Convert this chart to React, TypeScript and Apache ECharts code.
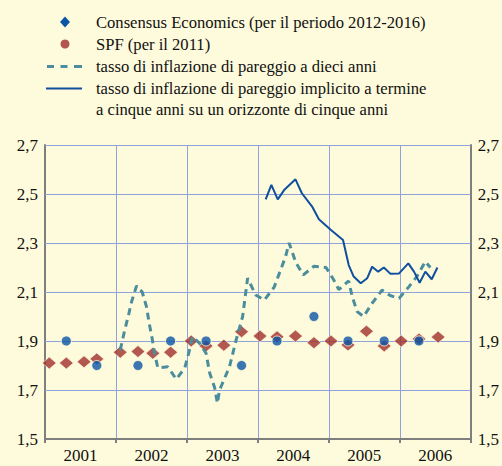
import React, { useEffect, useRef } from "react";
import * as echarts from "echarts";

const years = ["2001", "2002", "2003", "2004", "2005", "2006"];
const yTicks = [1.7, 1.9, 2.1, 2.3, 2.5, 2.7];

// SPF (per il 2011): [decimal year, value]
const spfX = [2001.06, 2001.3, 2001.55, 2001.73, 2002.06, 2002.31, 2002.52, 2002.77, 2003.06, 2003.27, 2003.52, 2003.77, 2004.03, 2004.27, 2004.53, 2004.79, 2005.03, 2005.27, 2005.53, 2005.78, 2006.02, 2006.27, 2006.54];
const spfY = [1.81, 1.81, 1.815, 1.827, 1.854, 1.857, 1.85, 1.854, 1.9, 1.88, 1.883, 1.938, 1.92, 1.917, 1.92, 1.893, 1.9, 1.884, 1.94, 1.88, 1.9, 1.908, 1.916];

// Consensus Economics (per il periodo 2012-2016)
const ceX = [2001.3, 2001.73, 2002.31, 2002.77, 2003.27, 2003.77, 2004.27, 2004.79, 2005.27, 2005.78, 2006.27];
const ceY = [1.9, 1.8, 1.8, 1.9, 1.9, 1.8, 1.9, 2.0, 1.9, 1.9, 1.9];

// tasso di inflazione di pareggio a dieci anni
const beX = [2002.06, 2002.12, 2002.18, 2002.22, 2002.29, 2002.37, 2002.43, 2002.47, 2002.51, 2002.545, 2002.59, 2002.73, 2002.85, 2002.97, 2003.03, 2003.08, 2003.18, 2003.27, 2003.32, 2003.39, 2003.43, 2003.46, 2003.6, 2003.69, 2003.785, 2003.855, 2003.97, 2004.09, 2004.23, 2004.32, 2004.39, 2004.44, 2004.535, 2004.64, 2004.79, 2004.96, 2005.07, 2005.14, 2005.28, 2005.33, 2005.4, 2005.49, 2005.61, 2005.75, 2005.87, 2005.99, 2006.13, 2006.24, 2006.36, 2006.43];
const beY = [1.863, 1.94, 2.01, 2.06, 2.125, 2.1, 2.04, 1.97, 1.91, 1.85, 1.79, 1.795, 1.744, 1.79, 1.856, 1.918, 1.89, 1.85, 1.77, 1.71, 1.646, 1.7, 1.795, 1.9, 2.0, 2.156, 2.088, 2.067, 2.12, 2.19, 2.244, 2.3, 2.22, 2.17, 2.205, 2.2, 2.149, 2.11, 2.145, 2.08, 2.02, 2.0, 2.054, 2.108, 2.085, 2.074, 2.122, 2.163, 2.224, 2.2];

// tasso di inflazione di pareggio implicito a termine a cinque anni su un orizzonte di cinque anni
const fwdX = [2004.11, 2004.19, 2004.28, 2004.37, 2004.53, 2004.62, 2004.77, 2004.86, 2005.03, 2005.2, 2005.28, 2005.35, 2005.45, 2005.54, 2005.61, 2005.695, 2005.775, 2005.87, 2005.99, 2006.12, 2006.2, 2006.28, 2006.36, 2006.45, 2006.53];
const fwdY = [2.478, 2.537, 2.478, 2.516, 2.56, 2.503, 2.446, 2.397, 2.353, 2.312, 2.21, 2.163, 2.136, 2.156, 2.203, 2.183, 2.2, 2.174, 2.176, 2.217, 2.183, 2.138, 2.183, 2.152, 2.2];

const legendLabels = [
  "Consensus Economics (per il periodo 2012-2016)",
  "SPF (per il 2011)",
  "tasso di inflazione di pareggio a dieci anni",
  "tasso di inflazione di pareggio implicito a termine",
  "a cinque anni su un orizzonte di cinque anni",
];

const BG = "#fefbdc";
const GRID = "#8fa2dc";
const AXIS = "#7f7f7f";
const RED = "#9f302c";
const BLUE = "#0b55a6";
const TEAL = "#4a8d9c";
const NAVY = "#0f4f9e";
const FONT = "Liberation Serif";
const TXT = "#111111";

const zip = (xs: number[], ys: number[]) => xs.map((x, i) => [x, ys[i]]);
const fmt = (v: number) => {
  const t = Math.round(v * 10);
  if (t % 2 === 0) return "";
  return (t / 10).toFixed(1).replace(".", ",");
};

export default function App() {
  const ref = useRef<HTMLDivElement>(null);
  useEffect(() => {
    document.body.style.margin = "0";
    document.body.style.background = BG;
    const chart = echarts.init(ref.current!, undefined, { renderer: "svg" });
    const yAxisBase = {
      type: "value",
      min: 1.5,
      max: 2.7,
      interval: 0.1,
      splitLine: { show: false },
      axisTick: { show: false },
      axisLine: { show: true, lineStyle: { color: AXIS, width: 2 } },
      axisLabel: { formatter: fmt, fontSize: 17, fontFamily: FONT, color: TXT, margin: 7 },
    };
    const textStyle = { fontSize: 16.6, fontFamily: FONT, fill: TXT, textVerticalAlign: "middle" };
    const legendY = [22.5, 44.5, 66, 88, 109.5];
    chart.setOption({
      animation: false,
      backgroundColor: BG,
      grid: { left: 45, right: 30, top: 145, bottom: 27 },
      xAxis: [
        {
          type: "category",
          data: years,
          boundaryGap: true,
          axisLine: { show: true, lineStyle: { color: AXIS, width: 2 } },
          axisTick: { show: true, interval: 0, length: 4, lineStyle: { color: AXIS, width: 2 } },
          splitLine: { show: true, interval: 0, lineStyle: { color: GRID, width: 1 } },
          axisLabel: { fontSize: 17, fontFamily: FONT, color: TXT, margin: 8, interval: 0 },
        },
        { type: "value", min: 2001, max: 2007, show: false },
      ],
      yAxis: [
        { ...yAxisBase, position: "left" },
        { ...yAxisBase, position: "right" },
      ],
      series: [
        {
          type: "line",
          name: legendLabels[2],
          xAxisIndex: 1,
          data: zip(beX, beY),
          showSymbol: false,
          lineStyle: { color: TEAL, width: 3, type: [7, 5], cap: "butt" },
          markLine: {
            silent: true,
            symbol: "none",
            z: 1,
            label: { show: false },
            lineStyle: { color: GRID, width: 1, type: "solid" },
            data: yTicks.map((v) => ({ yAxis: v })),
          },
        },
        {
          type: "line",
          name: legendLabels[3],
          xAxisIndex: 1,
          data: zip(fwdX, fwdY),
          showSymbol: false,
          lineStyle: { color: NAVY, width: 2 },
        },
        {
          type: "scatter",
          name: legendLabels[1],
          xAxisIndex: 1,
          data: zip(spfX, spfY),
          symbol: "diamond",
          symbolSize: [14, 12],
          itemStyle: { color: RED, borderColor: BG, borderWidth: 0.8 },
        },
        {
          type: "scatter",
          name: legendLabels[0],
          xAxisIndex: 1,
          data: zip(ceX, ceY),
          symbol: "circle",
          symbolSize: 10,
          itemStyle: { color: BLUE, borderColor: BG, borderWidth: 1 },
        },
      ],
      graphic: [
        { type: "polygon", shape: { points: [[65, 16.5], [70, 22], [65, 27.5], [60, 22]] }, style: { fill: BLUE } },
        { type: "circle", shape: { cx: 65, cy: 44, r: 4.5 }, style: { fill: "#b3564f" } },
        { type: "rect", shape: { x: 47, y: 65, width: 7, height: 3 }, style: { fill: TEAL } },
        { type: "rect", shape: { x: 60.5, y: 65, width: 7, height: 3 }, style: { fill: TEAL } },
        { type: "rect", shape: { x: 74, y: 65, width: 8, height: 3 }, style: { fill: TEAL } },
        { type: "line", shape: { x1: 46, y1: 88.5, x2: 82, y2: 88.5 }, style: { stroke: NAVY, lineWidth: 2 } },
        ...legendLabels.map((t, i) => ({
          type: "text",
          x: 96,
          y: legendY[i],
          style: { ...textStyle, text: t },
        })),
      ],
    });
    return () => chart.dispose();
  }, []);
  return <div ref={ref} style={{ width: 502, height: 466, background: BG }} />;
}
